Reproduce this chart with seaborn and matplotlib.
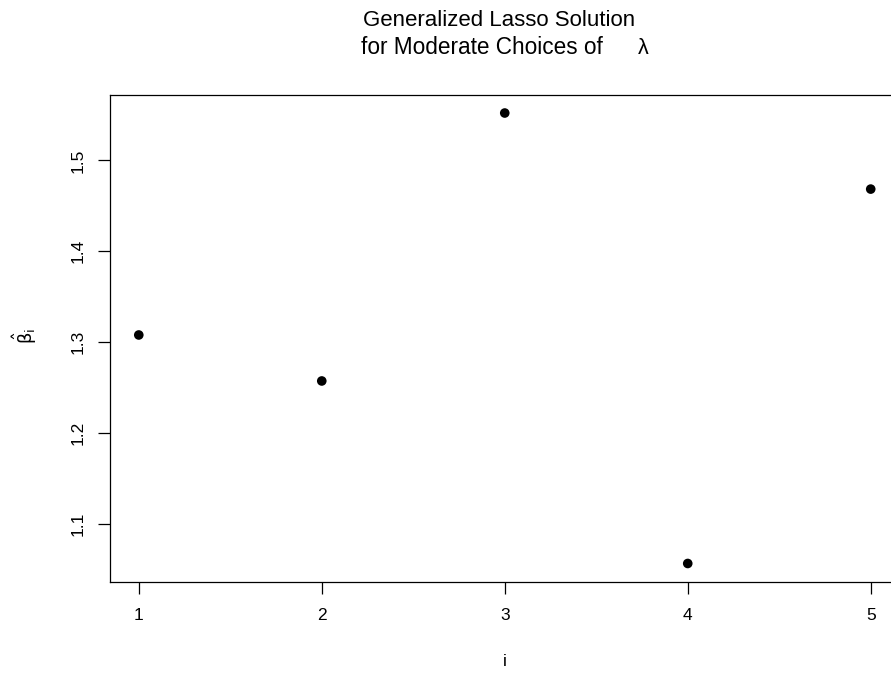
import numpy as np
import pandas as pd
import seaborn as sns
import matplotlib.pyplot as plt

# values
idx = [1, 2, 3, 4, 5]
beta_hat = [1.308, 1.2574, 1.5522, 1.0566, 1.4685]
ytick_vals = [1.1, 1.2, 1.3, 1.4, 1.5]

df = pd.DataFrame({"i": idx, "beta": beta_hat})

sns.set_style("ticks")
plt.rcParams['font.family'] = ['Liberation Sans', 'DejaVu Sans']
plt.rcParams['mathtext.fontset'] = 'dejavusans'
plt.rcParams['text.color'] = 'black'
plt.rcParams['xtick.color'] = 'black'
plt.rcParams['ytick.color'] = 'black'
plt.rcParams['axes.labelcolor'] = 'black'

W, H = 891, 673
fig = plt.figure(figsize=(W / 100, H / 100), dpi=100)
# plot box in pixels: left 109.5, right 900 (runs past the image), top 95, bottom 581.5
ax = fig.add_axes([109.5 / W, (H - 581.5) / H, (900 - 109.5) / W, (581.5 - 95) / H])

sns.scatterplot(data=df, x="i", y="beta", ax=ax, color="black", s=48,
                edgecolor="none", linewidth=0, legend=False)

# R style 4% padding
xr = max(idx) - min(idx)
yr = max(beta_hat) - min(beta_hat)
ax.set_xlim(min(idx) - 0.04 * xr, max(idx) + 0.04 * xr)
ax.set_ylim(min(beta_hat) - 0.04 * yr, max(beta_hat) + 0.04 * yr)

ax.set_xticks(idx)
ax.set_yticks(ytick_vals)
ax.set_yticklabels([f"{v:.1f}" for v in ytick_vals], rotation=90, va="center")
ax.tick_params(axis="both", direction="out", length=8.8, width=0.9,
               color="black", labelcolor="black", labelsize=12.5)
ax.tick_params(axis="x", pad=10)
ax.tick_params(axis="y", pad=8.5)

for sp in ax.spines.values():
    sp.set_color("black")
    sp.set_linewidth(0.9)

ax.set_xlabel("")
ax.set_ylabel("")
fig.text(505 / W, 1 - 662 / H, "i", ha="center", va="center", fontsize=12.5)
fig.text(25 / W, 1 - 336 / H, r"$\hat{\mathrm{\beta}}_{\mathrm{i}}$", ha="center",
         va="center", fontsize=13, rotation=90)

# two line title
fig.text(499 / W, 1 - 21 / H, "Generalized Lasso Solution", ha="center",
         va="center", fontsize=16)
fig.text(361 / W, 1 - 48 / H, "for Moderate Choices of", ha="left",
         va="center", fontsize=16.3)
fig.text(643 / W, 1 - 48 / H, "λ", ha="center", va="center", fontsize=15.5)

plt.savefig("out.png", dpi=100)
plt.close()
